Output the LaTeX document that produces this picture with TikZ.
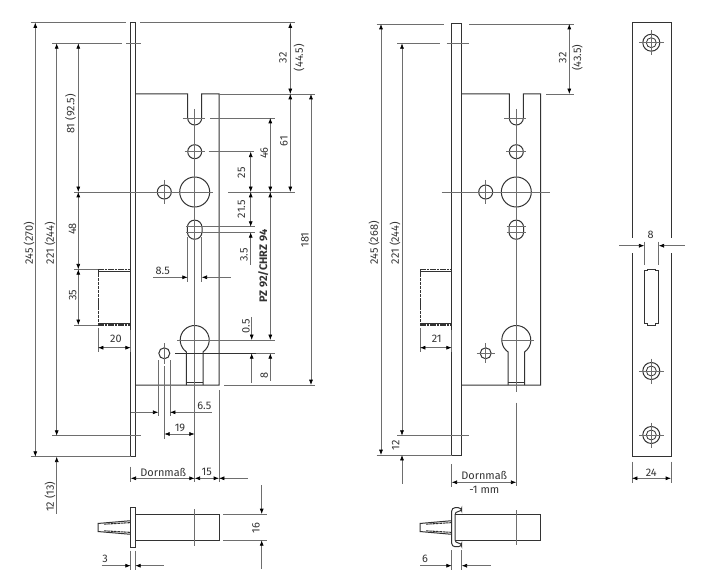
\documentclass[tikz,border=0pt]{standalone}
\usepackage{fontspec}
\setmainfont{Fira Sans}
\usetikzlibrary{arrows.meta}
\definecolor{inkc}{HTML}{333333}
\definecolor{thinc}{HTML}{6E6E6E}
\tikzset{
    outline/.style={draw=inkc,line width=0.75pt},
    thinline/.style={draw=thinc,line width=0.5pt},
    dimline/.style={draw=thinc,line width=0.5pt,>={Latex[length=4pt,width=3pt,color=black]}},
    hatchline/.style={draw=inkc,line width=0.8pt,dash pattern=on 2pt off 0.5pt},
    dimlabel/.style={text=inkc,font=\fontsize{8.2}{9}\selectfont,inner sep=0pt},
    vlabel/.style={dimlabel,rotate=90}
}
\begin{document}
\begin{tikzpicture}[x=0.75pt,y=-0.75pt]
    \useasboundingbox (0,0) rectangle (704,581);

    % plates and case outlines
    \draw[outline] (130.7,22.3) rectangle (135.3,456.7);
    \draw[outline] (135.3,94) -- (187.7,94) -- (187.7,118) arc[start angle=180,end angle=0,radius=7] -- (201.7,94) -- (219,94) -- (219,385) -- (135.3,385);
    \draw[outline] (451.7,24) rectangle (461.7,455);
    \draw[outline] (461.7,94) -- (509.3,94) -- (509.3,118) arc[start angle=180,end angle=0,radius=7] -- (523.3,94) -- (540.7,94) -- (540.7,385) -- (461.7,385);

    % holes of both locks
    \foreach \cx/\hx in {194.7/164.3,516.3/485.7} {
        \draw[outline] (\cx,151.7) circle[radius=7];
        \draw[outline] (\cx,192) circle[radius=15];
        \draw[outline] (\hx,192) circle[radius=7];
        \draw[outline] (\cx-7.3,227.4) arc[start angle=180,end angle=360,radius=7.3] -- (\cx+7.3,232) arc[start angle=0,end angle=180,radius=7.3] -- cycle;
        \draw[outline] (\cx-8.3,385) -- (\cx-8.3,351.9) arc[start angle=125,end angle=415,radius=14.5] -- (\cx+8.3,385);
        \draw[outline] (\cx-8.3,382.3) -- (\cx+8.3,382.3);
        \draw[outline] (\hx,353.3) circle[radius=5.5];
        % short centre marks
        \draw[thinline] (\cx-12,118) -- (\cx+10,118);
        \draw[thinline] (\hx,180) -- (\hx,204);
        \draw[thinline] (\cx-10,151.7) -- (\cx+10,151.7);
        \draw[thinline] (\cx-15,340) -- (\cx+18,340);
    }

    % latch and bolt, both locks
    \foreach \lx/\px in {98/130.7,420/451.7} {
        \draw[outline,line width=0.7pt,dash pattern=on 2.5pt off 0.6pt] (\lx,269.3) -- (\lx,325);
        \draw[outline,line width=0.6pt] (\lx,271.4) -- (\px,271.4);
        \draw[outline,line width=0.6pt] (\lx,323.2) -- (\px,323.2);
        \draw[hatchline] (\lx,269.6) -- (\px,269.6);
        \draw[hatchline] (\lx,325) -- (\px,325);
        \draw[outline] (\px,520.7) -- (\lx+2,523.3) -- (\lx,523.3) -- (\lx,531.7) -- (\lx+2,531.7) -- (\px,534.3);
        \draw[hatchline] (\lx+6,524.2) -- (\px,522.6);
        \draw[hatchline] (\lx+6,530.8) -- (\px,532.4);
    }
    \draw[outline] (130.7,507.7) rectangle (135.3,547);
    \draw[outline] (135.3,514) rectangle (219,540.3);
    \draw[outline,rounded corners=2.5pt] (461.7,507.7) -- (451.7,507.7) -- (451.7,546.7) -- (461.7,546.7) -- (461.7,543) -- (455,543) -- (455,511.5) -- (461.7,511.5) -- cycle;
    \draw[outline] (455,514) -- (540.7,514) -- (540.7,540.7) -- (455,540.7);

    % striking plate
    \draw[outline] (632,237.7) -- (632,22.3) -- (671,22.3) -- (671,237.7);
    \draw[outline] (632,253.3) -- (632,456.7) -- (671,456.7) -- (671,253.3);
    \foreach \sy/\name in {42.7/a,371/b,435/c} {
        \draw[outline] (651.3,\sy) circle[radius=8.5];
        \draw[outline,line width=0.6pt] (651.3,\sy) circle[radius=5];
        \draw[thinline] (651.3,\sy-12.5) -- (651.3,\sy+12.5);
        \draw[thinline] (639,\sy) -- (663.5,\sy);
    }
    \draw[outline,line width=0.6pt] (644.3,270.7) -- (647.5,270.7) -- (647.5,269) -- (655,269) -- (655,270.7) -- (658.7,270.7) -- (658.7,323.5) -- (655,323.5) -- (655,325.5) -- (647.5,325.5) -- (647.5,323.5) -- (644.3,323.5) -- cycle;

    % centre lines
    \draw[thinline] (194.7,109) -- (194.7,482);
    \draw[thinline] (164.3,343) -- (164.3,364);
    \draw[thinline] (164.3,366) -- (164.3,439);
    \draw[thinline] (516.3,109) -- (516.3,392);
    \draw[thinline] (516.3,402.7) -- (516.3,486);
    \draw[thinline] (476.7,353.3) -- (495,353.3);
    \draw[thinline] (485.7,343) -- (485.7,363);
    \draw[thinline] (441.7,192) -- (550,192);
    \draw[thinline] (506.7,226.7) -- (526,226.7);
    \draw[thinline] (506.7,232.3) -- (526,232.3);
    \draw[thinline] (194.7,509.3) -- (194.7,545.7);
    \draw[thinline] (516.3,510) -- (516.3,545);

    % extension lines, left lock
    \draw[thinline] (30.7,22.5) -- (126,22.5);
    \draw[thinline] (140,22.5) -- (295,22.5);
    \draw[thinline] (52.3,43.3) -- (121.7,43.3);
    \draw[thinline] (126,43.3) -- (140.7,43.3);
    \draw[thinline] (74,192) -- (213,192);
    \draw[thinline] (228,192) -- (295,192);
    \draw[thinline] (74,269.3) -- (98,269.3);
    \draw[thinline] (74,325) -- (98,325);
    \draw[thinline] (98,328) -- (98,352);
    \draw[thinline] (130.7,330) -- (130.7,352);
    \draw[thinline] (52,435.7) -- (140.7,435.7);
    \draw[thinline] (30.7,456.7) -- (130.7,456.7);
    \draw[thinline] (219,94) -- (315,94);
    \draw[thinline] (224,385) -- (315,385);
    \draw[thinline] (210,118) -- (275,118);
    \draw[thinline] (208.7,151.7) -- (254,151.7);
    \draw[thinline] (186,226.7) -- (255,226.7);
    \draw[thinline] (186,232.3) -- (255,232.3);
    \draw[thinline] (187.7,237) -- (187.7,282);
    \draw[thinline] (201.7,237) -- (201.7,282);
    \draw[thinline] (177,340) -- (275,340);
    \draw[inkc,line width=0.6pt] (175,353.3) -- (256,353.3);
    \draw[thinline] (256,353.3) -- (275,353.3);
    \draw[thinline] (158.3,360) -- (158.3,416);
    \draw[thinline] (170,360) -- (170,416);
    \draw[thinline] (219,390) -- (219,482);
    \draw[thinline] (130.7,466.7) -- (130.7,482);
    \draw[thinline] (223,514) -- (266.7,514);
    \draw[thinline] (223,540.3) -- (266.7,540.3);
    \draw[thinline] (130.7,550.7) -- (130.7,570);
    \draw[thinline] (135.3,550.7) -- (135.3,570);

    % dimension lines, left lock
    \draw[dimline,<->] (35.3,22.5) -- (35.3,456.7);
    \draw[dimline,<->] (56.7,43.3) -- (56.7,435.7);
    \draw[dimline,<->] (78.3,43.3) -- (78.3,192);
    \draw[dimline,<->] (78.3,192) -- (78.3,269.3);
    \draw[dimline,<->] (78.3,269.3) -- (78.3,325);
    \draw[dimline,<->] (98,347.7) -- (130.7,347.7);
    \draw[dimline,<-] (56.7,456.7) -- (56.7,514);
    \draw[dimline,<->] (290.3,22.5) -- (290.3,94);
    \draw[dimline,<->] (290.3,94) -- (290.3,192);
    \draw[dimline,<->] (311,94) -- (311,385);
    \draw[dimline,<->] (270.3,118) -- (270.3,192);
    \draw[dimline,<->] (270.3,192) -- (270.3,340);
    \draw[dimline,<-] (270.3,353.3) -- (270.3,381);
    \draw[dimline,<->] (250.7,151.7) -- (250.7,192);
    \draw[dimline,<->] (250.7,192) -- (250.7,226.7);
    \draw[dimline,<-] (250.7,232.3) -- (250.7,265);
    \draw[dimline,->] (251.7,317) -- (251.7,340);
    \draw[dimline,<-] (251.7,353.3) -- (251.7,382.7);
    \draw[dimline,->] (153,277.3) -- (187.7,277.3);
    \draw[dimline,<-] (201.7,277.3) -- (230.7,277.3);
    \draw[dimline,->] (130.7,412.3) -- (158.3,412.3);
    \draw[dimline,<-] (170,412.3) -- (212,412.3);
    \draw[dimline,<->] (164.3,434) -- (194.7,434);
    \draw[dimline,<->] (130.7,478.3) -- (194.7,478.3);
    \draw[dimline,<->] (194.7,478.3) -- (219,478.3);
    \draw[dimline,<-] (219,478.3) -- (248,478.3);
    \draw[dimline,->] (261.7,485) -- (261.7,514);
    \draw[dimline,<-] (261.7,540.3) -- (261.7,569);
    \draw[dimline,->] (101.7,565.7) -- (130.7,565.7);
    \draw[dimline,<-] (135.3,565.7) -- (164.3,565.7);

    % extension and dimension lines, middle lock
    \draw[thinline] (376.7,24) -- (444,24);
    \draw[thinline] (469,24) -- (574,24);
    \draw[thinline] (397.3,43.3) -- (440,43.3);
    \draw[thinline] (446.7,43.3) -- (469,43.3);
    \draw[thinline] (397.3,435.7) -- (469,435.7);
    \draw[thinline] (376.7,455) -- (451.7,455);
    \draw[thinline] (546,94) -- (574,94);
    \draw[thinline] (420,328) -- (420,352);
    \draw[thinline] (451.7,330) -- (451.7,352);
    \draw[thinline] (451.7,464) -- (451.7,487);
    \draw[thinline] (451.7,550) -- (451.7,570);
    \draw[thinline] (461.7,550) -- (461.7,570);
    \draw[dimline,<->] (381,24) -- (381,455);
    \draw[dimline,<->] (402,43.3) -- (402,435.7);
    \draw[dimline,<-] (402,455) -- (402,484);
    \draw[dimline,<->] (569.3,24) -- (569.3,94);
    \draw[dimline,<->] (420,347.7) -- (451.7,347.7);
    \draw[dimline,<->] (451.7,482.3) -- (516.3,482.3);
    \draw[dimline,->] (420,565.7) -- (451.7,565.7);
    \draw[dimline,<-] (461.7,565.7) -- (490.7,565.7);

    % extension and dimension lines, striking plate
    \draw[thinline] (644.3,241.7) -- (644.3,265);
    \draw[thinline] (658.7,241.7) -- (658.7,265);
    \draw[thinline] (632,461.7) -- (632,483);
    \draw[thinline] (671,461.7) -- (671,483);
    \draw[dimline,->] (619.3,245.7) -- (644.3,245.7);
    \draw[dimline,<-] (658.7,245.7) -- (685,245.7);
    \draw[dimline,<->] (632,478.3) -- (671,478.3);

    % labels, left lock
    \node[vlabel] (l245) at (29,243) {245 (270)};
    \node[vlabel] (l221) at (50,243) {221 (244)};
    \node[vlabel] (l81) at (70.5,114) {81 (92.5)};
    \node[vlabel] (l48) at (72.5,229) {48};
    \node[vlabel] (l35) at (72.7,295) {35};
    \node[dimlabel] (l20) at (116,338.7) {20};
    \node[vlabel] (l12l) at (50,496.7) {12 (13)};
    \node[vlabel] (l32l) at (283,57.7) {32};
    \node[vlabel] (l445) at (299,57.7) {(44.5)};
    \node[vlabel] (l61) at (284,141) {61};
    \node[vlabel] (l181) at (305,240) {181};
    \node[vlabel] (l46) at (264.3,153) {46};
    \node[vlabel] (l25) at (241.5,172.7) {25};
    \node[vlabel] (l215) at (241.5,209) {21.5};
    \node[vlabel] (l35b) at (244,255) {3.5};
    \node[vlabel] (l05) at (246,326) {0.5};
    \node[vlabel] (l8v) at (264.3,375) {8};
    \node[vlabel,font=\fontsize{8.2}{9}\selectfont\bfseries] (lpz) at (263.3,266) {PZ 92/CHRZ 94};
    \node[dimlabel] (l85) at (162.7,270.7) {8.5};
    \node[dimlabel] (l65) at (204.3,406) {6.5};
    \node[dimlabel] (l19) at (180,428) {19};
    \node[dimlabel] (ldl) at (163.3,472.3) {Dornmaß};
    \node[dimlabel] (l15) at (206.7,472.3) {15};
    \node[vlabel] (l16) at (256,528.3) {16};
    \node[dimlabel] (l3) at (105,559) {3};

    % labels, middle lock and striking plate
    \node[vlabel] (m245) at (374,243) {245 (268)};
    \node[vlabel] (m221) at (395,243) {221 (244)};
    \node[vlabel] (m12) at (395.7,445) {12};
    \node[vlabel] (m32) at (562.7,57.7) {32};
    \node[vlabel] (m435) at (577.3,57.7) {(43.5)};
    \node[dimlabel] (m21) at (436.7,338.7) {21};
    \node[dimlabel] (mdm) at (484.3,475.7) {Dornmaß};
    \node[dimlabel] (mmm) at (484.3,490) {-1 mm};
    \node[dimlabel] (m6) at (425,559) {6};
    \node[dimlabel] (s8) at (650.7,235) {8};
    \node[dimlabel] (s24) at (651.3,472.3) {24};
\end{tikzpicture}
\end{document}
